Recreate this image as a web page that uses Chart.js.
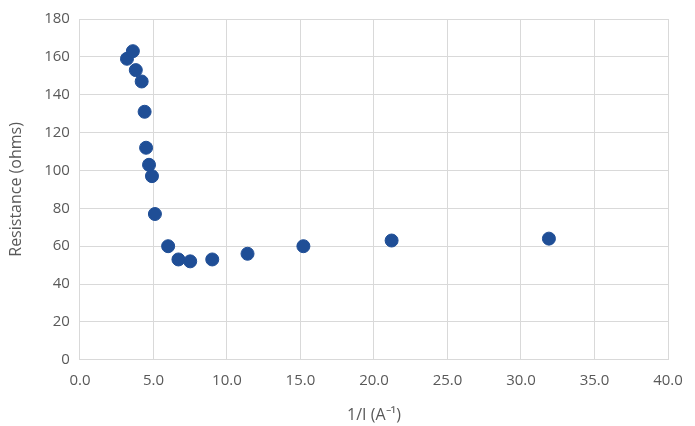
<!DOCTYPE html>
<html>
<head>
<meta charset="utf-8">
<script src="https://cdn.jsdelivr.net/npm/chart.js@4"></script>
<style>
  html, body { margin: 0; padding: 0; background: #fff; }
  #wrap { width: 695px; height: 426px; }
</style>
</head>
<body>
<div id="wrap"><canvas id="chart" width="695" height="426"></canvas></div>
<script>
// data
const invCurrent = [3.2, 3.6, 3.8, 4.2, 4.4, 4.5, 4.7, 4.9, 5.1, 6.0, 6.7, 7.5, 9.0, 11.4, 15.2, 21.2, 31.9];
const resistance = [159, 163, 153, 147, 131, 112, 103, 97, 77, 60, 53, 52, 53, 56, 60, 63, 64];
const xTicks = [0, 5, 10, 15, 20, 25, 30, 35, 40];
const yTicks = [0, 20, 40, 60, 80, 100, 120, 140, 160, 180];

const points = invCurrent.map((x, i) => ({ x: x, y: resistance[i] }));
const textColor = '#595959';
const gridColor = '#d9d9d9';
const tickFont = { family: 'Open Sans', size: 15 };
const titleFont = { family: 'Open Sans', size: 16 };

new Chart(document.getElementById('chart').getContext('2d'), {
  type: 'scatter',
  data: {
    datasets: [{
      label: 'Resistance',
      data: points,
      backgroundColor: '#1f4e96',
      borderColor: '#1f4e96',
      pointRadius: 6.5,
      pointHoverRadius: 6.5
    }]
  },
  options: {
    responsive: false,
    animation: false,
    layout: { padding: { left: 7, right: 27, top: 8, bottom: 1 } },
    plugins: { legend: { display: false }, tooltip: { enabled: false } },
    scales: {
      x: {
        type: 'linear',
        min: xTicks[0],
        max: xTicks[xTicks.length - 1],
        afterBuildTicks: axis => { axis.ticks = xTicks.map(v => ({ value: v })); },
        ticks: { color: textColor, font: tickFont, padding: 12, callback: v => v.toFixed(1), maxRotation: 0 },
        grid: { color: gridColor, drawTicks: false },
        border: { color: gridColor },
        title: { display: true, text: '1/I (A⁻¹)', color: textColor, font: titleFont, padding: { top: 4, bottom: 0 } }
      },
      y: {
        min: yTicks[0],
        max: yTicks[yTicks.length - 1],
        afterBuildTicks: axis => { axis.ticks = yTicks.map(v => ({ value: v })); },
        ticks: { color: textColor, font: tickFont, padding: 10 },
        grid: { color: gridColor, drawTicks: false },
        border: { color: gridColor },
        title: { display: true, text: 'Resistance (ohms)', color: textColor, font: titleFont, padding: { top: 0, bottom: 8 } }
      }
    }
  }
});
</script>
</body>
</html>
